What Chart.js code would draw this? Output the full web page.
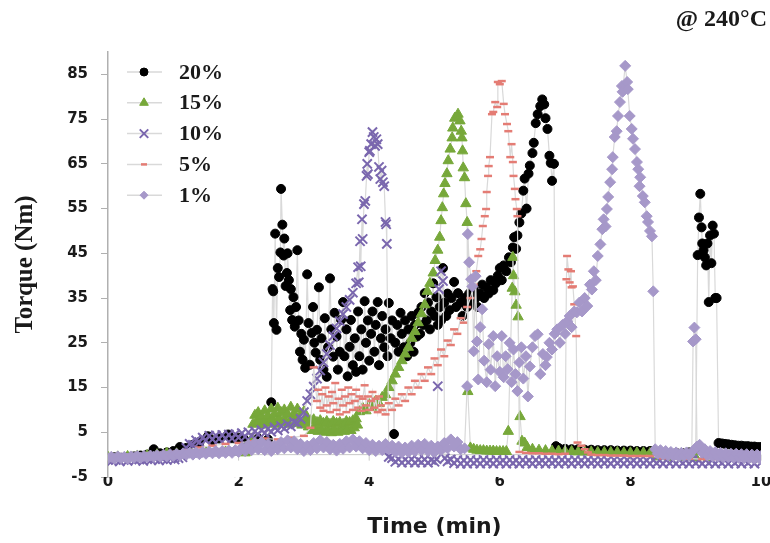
<!DOCTYPE html>
<html>
<head>
<meta charset="utf-8">
<script src="https://cdn.jsdelivr.net/npm/chart.js@4.4.1/dist/chart.umd.min.js"></script>
<style>
html,body{margin:0;padding:0;background:#fff;}
#wrap{width:770px;height:543px;}
</style>
</head>
<body>
<div id="wrap"><canvas id="torqueChart" width="770" height="543"></canvas></div>
<script>
/* =========================
   DATA (time min, torque Nm)
========================= */
var seriesLabels = ["20%", "15%", "10%", "5%", "1%"];
var xTicks = [0, 2, 4, 6, 8, 10];
var yTicks = [-5, 5, 15, 25, 35, 45, 55, 65, 75, 85];
var tempLabel = "@ 240\u00b0C";

var pts20 = [
[0,-0.8],[0.1,-0.6],[0.2,-0.7],[0.3,-0.5],[0.4,-0.4],[0.5,-0.2],[0.6,0],[0.7,1.2],[0.8,0.3],[0.9,0.5],
[1.0,0.8],[1.1,1.7],[1.2,1.5],[1.3,2.2],[1.4,2.8],[1.53,4.1],[1.6,3.2],[1.7,3.6],[1.84,4.5],[1.9,3.5],
[2.0,3.8],[2.1,3.2],[2.2,3.0],[2.3,3.6],[2.45,3.4],
[2.5,11.7],[2.52,37],[2.53,36.5],[2.54,29.4],[2.56,49.4],[2.58,27.9],[2.6,41.7],[2.62,39.7],[2.64,45.2],[2.65,59.4],
[2.67,51.4],[2.69,44.5],[2.7,48.3],[2.72,37.7],[2.74,40.6],[2.75,45],[2.77,39],[2.79,32.3],[2.8,37],[2.82,30.1],
[2.84,35.2],[2.86,28.6],[2.88,33],[2.9,45.7],[2.92,30],[2.94,23],[2.96,27],
[2.98,21.2],[3.0,25.7],[3.02,19.4],[3.05,40.3],[3.07,29.4],[3.09,20.1],[3.12,27.2],[3.14,33],[3.16,25],[3.18,22.8],
[3.2,27.9],[3.23,37.4],[3.25,21.2],[3.27,26],[3.3,19],[3.32,30.5],[3.35,17.4],[3.37,24],[3.4,39.4],[3.42,28],
[3.45,21.9],[3.47,31.7],[3.5,26.4],[3.52,19],[3.55,23],[3.57,30.1],[3.6,34.1],[3.62,22],[3.65,28],[3.67,17.5],
[3.7,24.1],[3.72,30.1],[3.75,20],[3.78,26],[3.8,18.5],[3.83,32],[3.85,22],[3.88,28],[3.9,19],[3.93,34.3],
[3.95,25],[3.98,30],[4.0,21],[4.03,27],[4.05,32],[4.08,23],[4.1,29],[4.13,34.1],[4.15,20],[4.18,26],
[4.2,31],[4.23,24],[4.25,28],[4.28,22],[4.3,33.9],[4.33,26],[4.35,30],[4.38,4.6],[4.4,25],[4.43,29],
[4.45,23],[4.48,31.7],[4.5,27],[4.53,24],[4.55,30],[4.58,22],[4.6,28],[4.63,25],[4.65,31],[4.68,23],
[4.7,29],[4.73,26.4],[4.75,31.7],[4.78,27],[4.8,33],[4.83,29],[4.85,36.1],[4.88,30],[4.9,34],[4.93,28],
[4.95,32],[4.98,38.3],[5.0,31],[5.03,35.2],[5.05,29],[5.08,33],[5.1,30],[5.13,41.7],[5.15,34],[5.18,31],
[5.2,36],[5.23,32.3],[5.26,35],[5.3,38.6],[5.33,33],[5.36,36.1],[5.4,34],[5.43,31],[5.46,35],[5.5,33],
[5.53,36],[5.56,34],[5.6,37],[5.63,35],[5.66,33],[5.7,36],[5.73,38],[5.76,35],[5.8,37.4],[5.83,36],
[5.86,39],[5.9,36.8],[5.94,38.3],[5.97,40],[6.0,41.7],[6.03,39],[6.06,42.3],[6.1,41],[6.14,44.1],[6.17,43],
[6.2,46.3],[6.22,48.6],[6.25,46],[6.27,49],[6.3,51.9],[6.33,53.9],[6.36,59],[6.38,61.7],[6.41,55],[6.44,62.8],
[6.46,64.6],[6.5,67.4],[6.52,69.7],[6.55,74.1],[6.58,76.1],[6.62,77.9],[6.65,79.4],[6.68,78.3],[6.7,75.2],[6.73,72.8],
[6.76,66.8],[6.78,65.2],[6.8,61.2],[6.83,65],
[6.86,1.9],[6.9,1.5],[7.0,1.3],[7.1,1.2],[7.2,1.2],[7.3,1.1],[7.4,1.1],[7.5,1.0],[7.6,1.0],[7.7,1.0],
[7.8,0.9],[7.9,0.9],[8.0,0.9],[8.1,0.8],[8.2,0.8],[8.3,0.8],[8.4,0.5],[8.5,0.4],[8.6,0.3],[8.7,0.4],
[8.8,0.3],[8.9,0.5],[9.0,1.2],
[9.03,44.6],[9.05,53],[9.07,58.3],[9.09,50.8],[9.1,47.2],[9.12,45.7],[9.14,44.1],[9.16,42.3],[9.18,47.2],[9.2,34.1],
[9.22,49],[9.24,42.8],[9.26,51.2],[9.28,49.4],[9.3,35],[9.32,35],
[9.35,2.6],[9.4,2.5],[9.45,2.4],[9.5,2.3],[9.55,2.2],[9.6,2.1],[9.65,2.0],[9.7,2.0],[9.75,1.9],[9.8,1.9],
[9.85,1.8],[9.9,1.8],[9.95,1.7],[10.0,1.7]
];

var pts15 = [
[0,-0.6],[0.15,-0.5],[0.3,-0.4],[0.45,-0.3],[0.6,-0.2],[0.75,0],[0.9,0.3],[1.05,0.2],[1.2,0.4],[1.35,0.3],
[1.5,0.5],[1.65,0.4],[1.8,0.6],[1.95,0.5],[2.1,0.4],[2.2,3.5],
[2.22,6.8],[2.25,8.8],[2.27,7.2],[2.3,9.4],[2.32,7.6],[2.35,8.6],[2.37,6.6],[2.4,9.8],[2.42,7.4],[2.45,8.6],
[2.47,7.0],[2.5,10.2],[2.52,7.8],[2.55,9.0],[2.57,6.8],[2.6,10.4],[2.62,8.0],[2.65,9.4],[2.67,7.2],[2.7,10.0],
[2.72,7.6],[2.75,9.0],[2.77,6.8],[2.8,10.6],[2.82,8.2],[2.85,9.2],[2.87,7.0],[2.9,10.2],[2.92,7.8],[2.95,8.8],
[2.97,6.6],[3.0,9.6],[3.02,7.4],[3.05,8.2],[3.07,6.2],[3.1,7.6],
[3.12,5.4],[3.15,7.8],[3.17,5.8],[3.2,7.2],[3.22,5.2],[3.25,7.6],[3.27,5.6],[3.3,7.0],[3.32,5.0],[3.35,7.4],
[3.37,5.4],[3.4,6.8],[3.42,4.9],[3.45,7.4],[3.47,5.6],[3.5,7.0],[3.52,5.0],[3.55,7.2],[3.57,5.4],[3.6,6.8],
[3.62,5.2],[3.65,7.4],[3.67,5.8],[3.7,7.2],[3.72,5.4],[3.75,7.6],[3.77,6.0],[3.8,8.0],[3.82,6.6],
[3.85,9.6],[3.9,10.4],[3.95,9.8],[4.0,11.2],[4.05,10.6],[4.1,12.0],
[4.15,11.4],[4.2,12.8],[4.25,13.4],[4.3,15.0],[4.35,16.5],[4.4,18.0],[4.45,19.5],[4.5,21.0],[4.55,22.5],[4.6,24.0],
[4.65,26.0],[4.7,27.5],[4.75,29.5],[4.8,31.5],[4.85,33.5],[4.89,36.5],[4.93,38.3],[4.98,40.6],[5.01,43.4],[5.05,45.7],
[5.08,48.6],[5.1,52.3],[5.12,55.2],[5.14,58.3],[5.16,60.6],[5.19,62.8],[5.21,65.7],[5.24,68.3],[5.27,70.8],[5.28,73],
[5.31,75.2],[5.36,76.1],[5.39,74.6],[5.41,72.3],[5.42,70.8],[5.43,67.9],[5.44,64.1],[5.46,61.9],[5.48,56.1],[5.5,51.9],
[5.51,14.1],[5.55,1.5],[5.6,1.2],[5.65,1.0],[5.7,0.9],[5.75,0.9],[5.8,0.8],[5.85,0.8],[5.9,0.8],[5.95,0.7],
[6.0,0.7],[6.05,0.7],[6.1,0.7],[6.13,5.2],[6.19,37.2],[6.2,44.1],[6.21,40],[6.23,36.4],[6.25,33.4],[6.28,30.8],
[6.31,8.5],[6.34,3.0],[6.38,2.6],[6.42,1.6],[6.5,1.2],[6.6,1.0],[6.7,0.9],[6.8,0.8],[6.9,0.8],[7.0,0.7],
[7.1,0.7],[7.2,0.6],[7.3,0.6],[7.4,0.6],[7.5,0.5],[7.6,0.5],[7.7,0.5],[7.8,0.5],[7.9,0.4],[8.0,0.4],
[8.1,0.4],[8.2,0.4],[8.3,0.3],[8.4,-0.5],[8.6,-0.6],[8.8,-0.6],[9.0,-0.7],[9.2,-0.7],[9.4,-0.8],[9.6,-0.8],
[9.8,-0.9],[10,-0.9]
];

var pts10 = [
[0,-1.2],[0.06,-1.4],[0.12,-1.1],[0.18,-1.5],[0.24,-1.2],[0.3,-1.4],[0.36,-1.0],[0.42,-1.3],[0.48,-1.1],[0.54,-1.4],
[0.6,-1.0],[0.66,-1.2],[0.72,-0.9],[0.78,-1.3],[0.84,-1.0],[0.9,-1.2],[0.96,-0.9],[1.02,-1.1],[1.08,-0.8],[1.14,-0.6],
[1.2,1.5],[1.25,2.4],[1.3,2.2],[1.35,3.2],[1.4,2.8],[1.45,3.8],[1.5,3.2],[1.55,4.2],[1.6,3.4],[1.65,4.3],
[1.7,3.5],[1.75,4.4],[1.8,3.6],[1.85,4.5],[1.9,3.6],[1.95,4.6],[2.0,3.8],[2.05,4.8],[2.1,4.0],[2.15,5.0],
[2.2,4.2],[2.25,5.2],[2.3,4.5],[2.35,5.5],[2.4,4.8],[2.45,5.8],[2.5,5.1],[2.55,6.1],[2.6,5.4],[2.65,6.4],
[2.7,5.8],[2.75,6.8],[2.8,6.3],[2.85,7.3],[2.9,7.0],[2.95,8.0],[3.0,9.5],[3.05,12],[3.1,13.5],[3.15,15.2],
[3.2,17],[3.25,18.8],[3.3,20.6],[3.35,22.5],[3.4,24.5],[3.45,26.5],[3.5,28.2],[3.55,29.8],[3.6,31.4],[3.65,33],
[3.7,34.6],[3.75,36.2],[3.8,38.3],
[3.83,41.9],[3.84,38.5],[3.86,47.7],[3.87,42.1],[3.89,52.6],[3.9,48.2],[3.92,56.0],[3.94,56.7],[3.96,62.3],[3.97,65],
[3.98,62.7],[4.0,67.6],[4.01,67.9],[4.03,69.4],[4.05,72.1],[4.07,71],[4.09,69],[4.11,70.5],[4.13,69.4],[4.15,64.3],
[4.17,61.6],[4.19,63.5],[4.21,60.9],[4.23,60],[4.25,52],[4.26,51.5],[4.27,47.1],
[4.3,-0.5],[4.35,-0.8],[4.4,-1.6],[4.45,-1.0],[4.5,-1.8],[4.55,-1.1],[4.6,-1.7],[4.65,-1.0],[4.7,-1.8],[4.75,-1.2],
[4.8,-1.7],[4.85,-1.1],[4.9,-1.8],[4.95,-1.2],[5.0,-1.6],[5.03,-1.0],[5.05,15.3],[5.07,37],[5.1,41],[5.13,38.8],
[5.16,-0.8],[5.2,-1.5],[5.25,-1.1],[5.3,-1.9],[5.35,-1.2],[5.4,-2.0],[5.45,-1.3],[5.5,-2.0],[5.55,-1.2],[5.6,-1.9],
[5.65,-1.3],[5.7,-2.0],[5.75,-1.2],[5.8,-1.9],[5.85,-1.3],[5.9,-2.0],[5.95,-1.2],[6.0,-1.9],[6.05,-1.3],[6.1,-2.0],
[6.15,-1.2],[6.2,-1.9],[6.25,-1.3],[6.3,-2.0],[6.35,-1.2],[6.4,-1.9],[6.45,-1.3],[6.5,-2.0],[6.55,-1.2],[6.6,-1.9],
[6.65,-1.3],[6.7,-2.0],[6.75,-1.2],[6.8,-1.9],[6.85,-1.3],[6.9,-2.0],[6.95,-1.2],[7.0,-1.9],[7.05,-1.3],[7.1,-2.0],
[7.15,-1.2],[7.2,-1.9],[7.25,-1.3],[7.3,-2.0],[7.35,-1.2],[7.4,-1.9],[7.45,-1.3],[7.5,-2.0],[7.55,-1.2],[7.6,-1.9],
[7.65,-1.3],[7.7,-2.0],[7.75,-1.2],[7.8,-1.9],[7.85,-1.3],[7.9,-2.0],[7.95,-1.2],[8.0,-1.9],[8.05,-1.3],[8.1,-2.0],
[8.15,-1.2],[8.2,-1.9],[8.25,-1.3],[8.3,-2.0],[8.35,-1.2],[8.4,-1.9],[8.45,-1.3],[8.5,-2.0],[8.55,-1.2],[8.6,-1.9],
[8.65,-1.3],[8.7,-2.0],[8.75,-1.2],[8.8,-1.9],[8.85,-1.3],[8.9,-2.0],[8.95,-1.2],[9.0,-1.9],[9.05,-1.3],[9.1,-2.0],
[9.15,-1.2],[9.2,-1.9],[9.25,-1.3],[9.3,-2.0],[9.35,-1.2],[9.4,-1.9],[9.45,-1.3],[9.5,-2.0],[9.55,-1.2],[9.6,-1.9],
[9.65,-1.3],[9.7,-2.0],[9.75,-1.2],[9.8,-1.9],[9.85,-1.3],[9.9,-2.0],[9.95,-1.2],[10,-1.8]
];

var pts5 = [
[0,-0.3],[0.2,-0.2],[0.4,0],[0.6,0.2],[0.8,0.4],[1.0,0.6],[1.2,1.0],[1.4,1.6],[1.6,2.0],[1.8,2.4],
[2.0,2.6],[2.2,3.0],[2.4,3.6],[2.6,3.4],[2.8,3.8],[3.0,4.2],[3.1,6],[3.15,19.5],[3.2,12],
[3.22,14.5],[3.25,10.5],[3.28,13.5],[3.3,9.8],[3.33,15],[3.35,11],[3.38,13],[3.4,9.5],[3.43,14],[3.45,11.5],
[3.48,16],[3.5,10],[3.53,12.5],[3.55,9],[3.58,14.5],[3.6,11],[3.63,13],[3.65,9.5],[3.68,15],[3.7,11.5],
[3.73,13.5],[3.75,10],[3.78,12],[3.8,14.5],[3.83,10.5],[3.85,13],[3.88,9.8],[3.9,12.5],[3.93,15.5],[3.95,11],
[3.98,13],[4.0,10],[4.03,12],[4.05,14],[4.08,10.5],[4.1,12.5],[4.13,9.5],[4.15,13],[4.18,11],
[4.2,10],[4.25,9],[4.3,11.5],[4.35,10],[4.4,12.5],[4.45,11],[4.5,13.5],[4.55,12],[4.6,15],[4.65,13.5],
[4.7,16.5],[4.75,15],[4.8,18],[4.85,16.5],[4.9,19.5],[4.95,18],[5.0,21.5],[5.05,20],[5.1,23.5],[5.15,22],
[5.2,25.5],[5.25,24.5],[5.3,28],[5.35,27],[5.4,30.5],[5.45,29.5],[5.5,33],[5.55,35],[5.6,38],[5.64,41],
[5.67,44.4],[5.7,45.9],[5.72,48.2],[5.74,51.1],[5.77,53.3],[5.79,54.9],[5.8,58.7],[5.82,62.3],[5.83,64.5],[5.85,66.5],
[5.88,76.1],[5.9,76.6],[5.93,78.8],[5.96,77.7],[5.97,83.3],[6.0,82.8],[6.03,83.5],[6.06,78.4],[6.08,76.1],[6.11,73.9],
[6.13,72.3],[6.16,66.5],[6.18,69.4],[6.2,65.4],[6.21,62.3],[6.23,59.4],[6.24,57.1],[6.26,54.9],[6.27,53.3],
[6.3,0.6],[6.4,0.4],[6.5,0.3],[6.6,0.3],[6.7,0.2],[6.8,0.2],[6.9,0.1],[7.0,0.2],
[7.02,39.2],[7.03,44.4],[7.05,41.4],[7.07,38.5],[7.09,41],[7.1,37.4],[7.12,37.6],[7.14,33.6],[7.17,26.5],
[7.19,2.7],[7.25,2.0],[7.3,1.2],[7.35,0.5],[7.4,0.0],[7.5,-0.1],[7.6,-0.1],[7.7,-0.2],[7.8,-0.2],[7.9,-0.2],
[8.0,-0.3],[8.1,-0.3],[8.2,-0.3],[8.3,-0.3],[8.5,-0.8],[8.7,-0.9],[8.9,-0.9],[9.1,-1.0],[9.3,-1.0],[9.5,-1.0],
[9.7,-1.1],[9.9,-1.1],[10,-1.1]
];

var pts1 = [
[0,-0.8],[0.05,-0.5],[0.1,-0.9],[0.15,-0.4],[0.2,-0.8],[0.25,-0.5],[0.3,-0.9],[0.35,-0.4],[0.4,-0.7],[0.45,-0.3],
[0.5,-0.7],[0.55,-0.3],[0.6,-0.6],[0.65,-0.2],[0.7,-0.5],[0.75,-0.1],[0.8,-0.5],[0.85,0],[0.9,-0.4],[0.95,0.1],
[1.0,-0.3],[1.05,0.2],[1.1,-0.2],[1.15,0.3],[1.2,0],[1.25,0.4],[1.3,0],[1.35,0.5],[1.4,0.1],[1.45,0.6],
[1.5,0.2],[1.55,0.7],[1.6,0.3],[1.65,0.8],[1.7,0.3],[1.75,0.8],[1.8,0.4],[1.85,0.9],[1.9,0.4],[1.95,1.0],
[2.0,0.6],[2.05,1.6],[2.1,0.8],[2.15,2.2],[2.2,1.0],[2.25,2.6],[2.3,1.2],[2.35,2.8],[2.4,1.0],[2.45,2.4],
[2.5,0.8],[2.55,2.0],[2.6,1.2],[2.65,2.8],[2.7,1.4],[2.75,3.2],[2.8,1.6],[2.85,3.0],[2.9,1.2],[2.95,2.4],
[3.0,0.8],[3.05,2.0],[3.1,1.0],[3.15,2.6],[3.2,1.4],[3.25,3.2],[3.3,1.6],[3.35,2.8],[3.4,1.2],[3.45,2.2],
[3.5,0.9],[3.55,2.4],[3.6,1.3],[3.65,3.0],[3.7,1.6],[3.75,3.4],[3.8,1.8],[3.85,3.0],[3.9,1.4],[3.95,2.6],
[4.0,1.0],[4.05,2.2],[4.1,0.8],[4.15,2.0],[4.2,1.0],[4.25,2.4],[4.3,1.2],[4.35,2.0],[4.4,0.6],[4.45,1.8],
[4.5,0.4],[4.55,1.6],[4.6,0.6],[4.65,2.0],[4.7,0.8],[4.75,2.2],[4.8,1.0],[4.85,2.4],[4.9,0.8],[4.95,2.0],
[5.0,0.6],[5.05,1.8],[5.1,1.0],[5.15,2.6],[5.2,1.4],[5.25,3.4],[5.3,1.8],[5.35,2.8],[5.4,1.2],[5.46,1.4],
[5.5,15.3],[5.51,49.3],[5.53,43],[5.56,39.2],[5.58,37.6],[5.6,23.1],[5.63,39.9],[5.65,25.3],[5.67,16.8],[5.7,28.5],
[5.73,32.5],[5.76,21],[5.8,16.2],[5.83,24.7],[5.86,19],[5.9,26.5],[5.93,15.3],[5.96,22],[6.0,18.5],[6.03,26.5],
[6.06,17.3],[6.09,22],[6.12,19.1],[6.15,25],[6.18,16.2],[6.21,23.5],[6.24,18],[6.27,14.2],[6.3,20.6],[6.33,24],
[6.36,17],[6.4,22],[6.43,13],[6.46,19.7],[6.5,24],[6.54,26.5],[6.58,26.9],[6.62,18],[6.66,22.5],[6.7,20],
[6.72,21.8],[6.76,25],[6.8,23.5],[6.84,27],[6.88,28],[6.92,25],[6.96,29],[7.0,27],[7.03,29.8],[7.07,31],
[7.1,28.5],[7.14,32],[7.18,31.8],[7.22,34],[7.26,32],[7.3,35],[7.34,33.2],
[7.38,38],[7.41,36.9],[7.44,41],[7.47,39],[7.5,44.4],[7.54,47],[7.57,50.4],[7.59,52.6],[7.62,51],[7.64,54.9],
[7.66,57.6],[7.69,60.9],[7.72,63.8],[7.73,66.5],[7.76,71],[7.79,72.3],[7.81,75.7],[7.84,78.8],[7.87,82.4],[7.88,81.1],
[7.92,86.9],[7.95,83.3],[7.96,81.7],[7.99,75.7],[8.02,72.8],[8.04,70.6],[8.07,68.3],[8.1,65.4],[8.12,63.8],[8.14,60],
[8.15,62],[8.19,57.8],[8.22,56.4],[8.25,53.3],[8.27,52],[8.3,50],[8.33,48.8],[8.35,36.5],
[8.38,1.2],[8.42,0.2],[8.46,1.0],[8.5,0],[8.54,0.8],[8.58,-0.2],[8.62,0.6],[8.66,-0.3],[8.7,0.5],[8.74,-0.4],
[8.78,0.4],[8.82,-0.3],[8.86,0.5],[8.9,-0.2],[8.94,0.6],[8.96,25.3],[8.98,28.4],[9.0,25.8],[9.02,1.8],[9.06,2.2],
[9.1,0.4],[9.14,1.2],[9.18,-0.2],[9.22,0.8],[9.26,-0.4],[9.3,0.6],[9.34,-0.5],[9.38,0.4],[9.42,-0.6],[9.46,0.3],
[9.5,-0.6],[9.54,0.2],[9.58,-0.7],[9.62,0.2],[9.66,-0.7],[9.7,0.1],[9.74,-0.8],[9.78,0.1],[9.82,-0.8],[9.86,0],
[9.9,-0.9],[9.94,0],[9.98,-0.9],[10,-0.3]
];

/* =========================
   STYLES
========================= */
var lineGrey = "#d9d9d9";
var seriesStyle = [
{style:"circle",   fill:"#000000", stroke:"#000000", r:4.5, bw:1,   order:5, legR:4},
{style:"triangle", fill:"#77a83a", stroke:"#77a83a", r:6,   bw:1,   order:4, legR:5},
{style:"crossRot", fill:"#7a67ae", stroke:"#7a67ae", r:6.5, bw:2,   order:3, legR:6},
{style:"line",     fill:"#e47c74", stroke:"#e47c74", r:4,   bw:2.5, order:2, legR:3},
{style:"rectRot",  fill:"#a698c9", stroke:"#a698c9", r:5.5, bw:1,   order:1, legR:4}
];
var allPts = [pts20, pts15, pts10, pts5, pts1];

var datasets = [];
for(var i=0;i<allPts.length;i++){
var s = seriesStyle[i];
datasets.push({
label: seriesLabels[i],
data: allPts[i],
showLine: true,
borderColor: lineGrey,
borderWidth: 1.2,
pointStyle: s.style,
pointRadius: s.r,
pointBorderWidth: s.bw,
pointBackgroundColor: s.fill,
pointBorderColor: s.stroke,
order: s.order
});
}

/* =========================
   EXTRA DRAWING (legend, axis at zero, label)
========================= */
var extras = {
id: "extras",
beforeDatasetsDraw: function(chart){
var ctx = chart.ctx, xs = chart.scales.x, ys = chart.scales.y;
var y0 = ys.getPixelForValue(0);
ctx.save();
ctx.strokeStyle = "#c8c8c8";
ctx.lineWidth = 1;
ctx.beginPath();
ctx.moveTo(chart.chartArea.left, y0);
ctx.lineTo(chart.chartArea.right, y0);
for(var k=0;k<xTicks.length;k++){
var px = xs.getPixelForValue(xTicks[k]);
ctx.moveTo(px, y0);
ctx.lineTo(px, y0 + 6);
}
ctx.stroke();
ctx.restore();
},
afterDraw: function(chart){
var ctx = chart.ctx;
ctx.save();
// legend
for(var k=0;k<seriesLabels.length;k++){
var s = seriesStyle[k];
var ly = 72 + k * 30.8;
ctx.strokeStyle = lineGrey;
ctx.lineWidth = 1.5;
ctx.beginPath();
ctx.moveTo(127, ly);
ctx.lineTo(162, ly);
ctx.stroke();
ctx.fillStyle = s.fill;
ctx.strokeStyle = s.stroke;
ctx.lineWidth = s.bw;
Chart.helpers.drawPoint(ctx, {pointStyle:s.style, radius:s.legR, rotation:0, borderWidth:s.bw}, 144, ly);
ctx.fillStyle = "#1a1a1a";
ctx.font = "bold 22px 'Liberation Serif'";
ctx.textAlign = "left";
ctx.textBaseline = "middle";
ctx.fillText(seriesLabels[k], 179, ly + 1);
}
// temperature label
ctx.fillStyle = "#1a1a1a";
ctx.font = "bold 24px 'Liberation Serif'";
ctx.textAlign = "right";
ctx.textBaseline = "middle";
ctx.fillText(tempLabel, 767, 20);
ctx.restore();
}
};

/* =========================
   CHART
========================= */
var ctx = document.getElementById("torqueChart").getContext("2d");

new Chart(ctx,{
type:"scatter",
data:{ datasets: datasets },
options:{
responsive:false,
animation:false,
events:[],
layout:{ padding:{ left:0, right:9, top:52, bottom:0 } },
plugins:{
legend:{ display:false },
tooltip:{ enabled:false }
},
scales:{
x:{
type:"linear",
min:0,
max:10,
afterBuildTicks:function(scale){
scale.ticks = xTicks.map(function(v){ return {value:v}; });
},
afterFit:function(scale){ scale.height = 66; },
grid:{ display:false },
border:{ display:false },
ticks:{
padding:-12,
color:"#1a1a1a",
font:{ family:"'DejaVu Sans'", weight:"bold", size:15 }
},
title:{
display:true,
text:"Time (min)",
color:"#1a1a1a",
padding:{ top:0, bottom:3 },
font:{ family:"'DejaVu Sans'", weight:"bold", size:22 }
}
},
y:{
type:"linear",
min:-5,
max:90,
afterBuildTicks:function(scale){
scale.ticks = yTicks.map(function(v){ return {value:v}; });
},
afterFit:function(scale){ scale.width = 108; },
grid:{ drawOnChartArea:false, drawTicks:true, tickLength:7, color:"#b0b0b0" },
border:{ display:true, color:"#b0b0b0", width:1.5 },
ticks:{
padding:13,
color:"#1a1a1a",
font:{ family:"'DejaVu Sans'", weight:"bold", size:15 }
},
title:{
display:true,
text:"Torque (Nm)",
color:"#1a1a1a",
padding:{ top:11, bottom:0 },
font:{ family:"'Liberation Serif'", weight:"bold", size:25 }
}
}
}
},
plugins:[extras]
});
</script>
</body>
</html>
